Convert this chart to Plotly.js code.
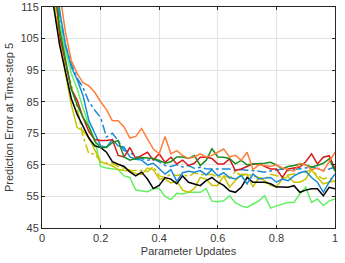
<!DOCTYPE html>
<html>
<head>
<meta charset="utf-8">
<script src="https://cdn.plot.ly/plotly-3.0.1.min.js"></script>
<style>html,body{margin:0;padding:0;background:#fff;}#chart{width:345px;height:263px;}</style>
</head>
<body>
<div id="chart"></div>
<script>
const xUpdates = [0.02,0.04,0.06,0.08,0.10,0.12,0.14,0.16,0.18,0.20,0.22,0.24,0.26,0.28,0.30,0.32,0.34,0.36,0.38,0.40,0.42,0.44,0.46,0.48,0.50,0.52,0.54,0.56,0.58,0.60,0.62,0.64,0.66,0.68,0.70,0.72,0.74,0.76,0.78,0.80,0.82,0.84,0.86,0.88,0.90,0.92,0.94,0.96,0.98,1.00];

const orangeSolid = [170,140,120,107,98,94,91,90,88,85,82.5,79,79,77,73.5,74,76.5,73,70,68.5,74,68.5,69.5,68,67,67.5,68.5,67.5,68,69,70,67.5,68,66.5,69,63.5,65,64.8,64.5,65,64,63.5,63,65.5,65,63.5,64,63,66,69];
const blackSolid = [150,115,103,95,86,81,77,73.5,71,70.5,69,66,65.2,64.5,62.8,61.5,62.7,60.5,57.5,58.5,61,60.5,59,61.5,59.5,59,58.4,60,61,59.5,58.5,56.8,56.3,57.9,61,59.5,59.5,59.5,59,58,58,57.9,58.4,56.3,57,57.4,57.4,55.2,57.9,57.4];
const redSolid = [160,125,106,97,89,85.5,80,75.5,73,72.7,72.7,73,68,67.5,70.5,67,68,69,66.5,68.5,65.8,67.4,65.3,66.5,64.8,65.5,67.4,67.4,67,65.3,65.3,66.9,63.2,63.7,64.5,65.3,65.3,64.5,63.7,63.7,61,63.7,64,64.3,66,68.5,65.3,67.4,67.9,63.7];
const greenSolid = [160,128,108,98,89,84,80,77,72.5,70.5,70.5,72,72.7,67.5,66.5,67,67.3,67.2,67,66.4,65.5,66,67.5,67.5,67,68,64.8,66.4,70.1,67.5,67.4,67,65.3,66.4,65,65.3,65.3,65.5,65.8,65,63.7,64.5,64.8,65.3,65,64.3,64.8,65.5,66.9,63];
const blueSolid = [180,140,114,103,96,92,87,79,75,71,70.6,73,71,70.6,67.5,66.8,66.5,65,65.5,63.7,62.1,63.5,59.8,62.5,63,62.7,63.2,61.8,63.5,61.5,62.5,61,60.5,61.6,59,62.1,60.5,60.8,61,59.5,60.5,60,61.5,62.5,63,61,59.5,56.3,59.5,62.1];
const blueDashDot = [200,150,113,103,97,92.5,89.5,85,82.3,80,73.8,75,72.7,69.6,69,67.6,67,66.5,66.8,66,64.8,64.5,65,64.3,64.8,63.9,64.2,63.8,63.7,63.7,63.5,63.7,63.2,63.5,63.3,63.2,63,62.7,63,63.3,63.7,63.2,63.5,63.7,64,64.3,63.8,63.2,63.7,64.3];
const yellowSolid = [150,116,104,94,84,76.8,75.8,73.5,69.6,66,65.3,64.7,63.5,63.2,63,62.3,62,64,63.5,60.5,60.5,59.3,59.8,57,56.3,57.5,61,60.5,58.5,58.5,61.5,58,60,62,62,58,61,60,58.5,58,60.5,61.3,59.5,59.5,60.5,63.5,61,59,59.5,60];
const yellowDashDot = [150,118,105,95.5,90.5,83,74,68.5,68.5,66,65.5,65.5,64.5,64,63.3,63.2,63.2,62.8,64.5,61.5,61,62,61.6,62,61.3,62.5,62,61.8,62,61,61.6,60.8,63,61.5,62,61.5,61,60.5,62,61.6,60.8,61.8,62.1,62.4,62.7,63.5,61.6,60.5,61,59.5];
const lightGreenSolid = [170,130,110,101,94,89,83,77.5,73,64.5,64,63.7,63.5,61.5,61,57,56.8,56.5,57.5,57.5,55,54,56,55.8,56.3,56.3,56.3,57.5,53.5,53.3,53.6,55.2,53,52,51.5,52.6,53.6,55.2,51.3,52,52.6,53.1,53.1,55.8,57.9,53.1,54.2,52.1,53.6,54.2];

const xTicks = [0,0.2,0.4,0.6,0.8,1];
const xTickText = ['0','0.2','0.4','0.6','0.8','1'];
const yTicks = [45,55,65,75,85,95,105,115];

const series = [
  {y: lightGreenSolid, color: '#62F062', dash: 'solid'},
  {y: yellowSolid, color: '#C9C400', dash: 'solid'},
  {y: yellowDashDot, color: '#C9C400', dash: 'dashdot'},
  {y: blackSolid, color: '#000000', dash: 'solid'},
  {y: blueSolid, color: '#1A8AD4', dash: 'solid'},
  {y: blueDashDot, color: '#1A8AD4', dash: 'dashdot'},
  {y: redSolid, color: '#D71A1A', dash: 'solid'},
  {y: greenSolid, color: '#1E8C1E', dash: 'solid'},
  {y: orangeSolid, color: '#FF7F3A', dash: 'solid'}
];

const traces = series.map(s => ({
  x: xUpdates, y: s.y, type: 'scatter', mode: 'lines',
  line: {color: s.color, width: 1.5, dash: s.dash},
  hoverinfo: 'skip', showlegend: false
}));

const font = {family: 'Liberation Sans, Arial, sans-serif', size: 11, color: '#3a3a3a'};
const layout = {
  width: 345, height: 263,
  margin: {l: 42, r: 10, t: 7, b: 35},
  paper_bgcolor: '#fff', plot_bgcolor: '#fff',
  font: font,
  showlegend: false,
  xaxis: {
    range: [0, 1], tickvals: xTicks, ticktext: xTickText,
    showgrid: true, gridcolor: '#e3e3e3', gridwidth: 1,
    zeroline: false, showline: true, linecolor: '#262626', linewidth: 1,
    mirror: 'ticks', ticks: 'inside', ticklen: 3, tickcolor: '#262626',
    tickfont: font,
    title: {text: 'Parameter Updates', font: font, standoff: 4}
  },
  yaxis: {
    range: [45, 115], tickvals: yTicks,
    showgrid: true, gridcolor: '#e3e3e3', gridwidth: 1,
    zeroline: false, showline: true, linecolor: '#262626', linewidth: 1,
    mirror: 'ticks', ticks: 'inside', ticklen: 3, tickcolor: '#262626',
    tickfont: font,
    title: {text: 'Prediction Error at Time-step 5', font: font, standoff: 4}
  }
};

Plotly.newPlot('chart', traces, layout, {staticPlot: true, displayModeBar: false});
</script>
</body>
</html>
